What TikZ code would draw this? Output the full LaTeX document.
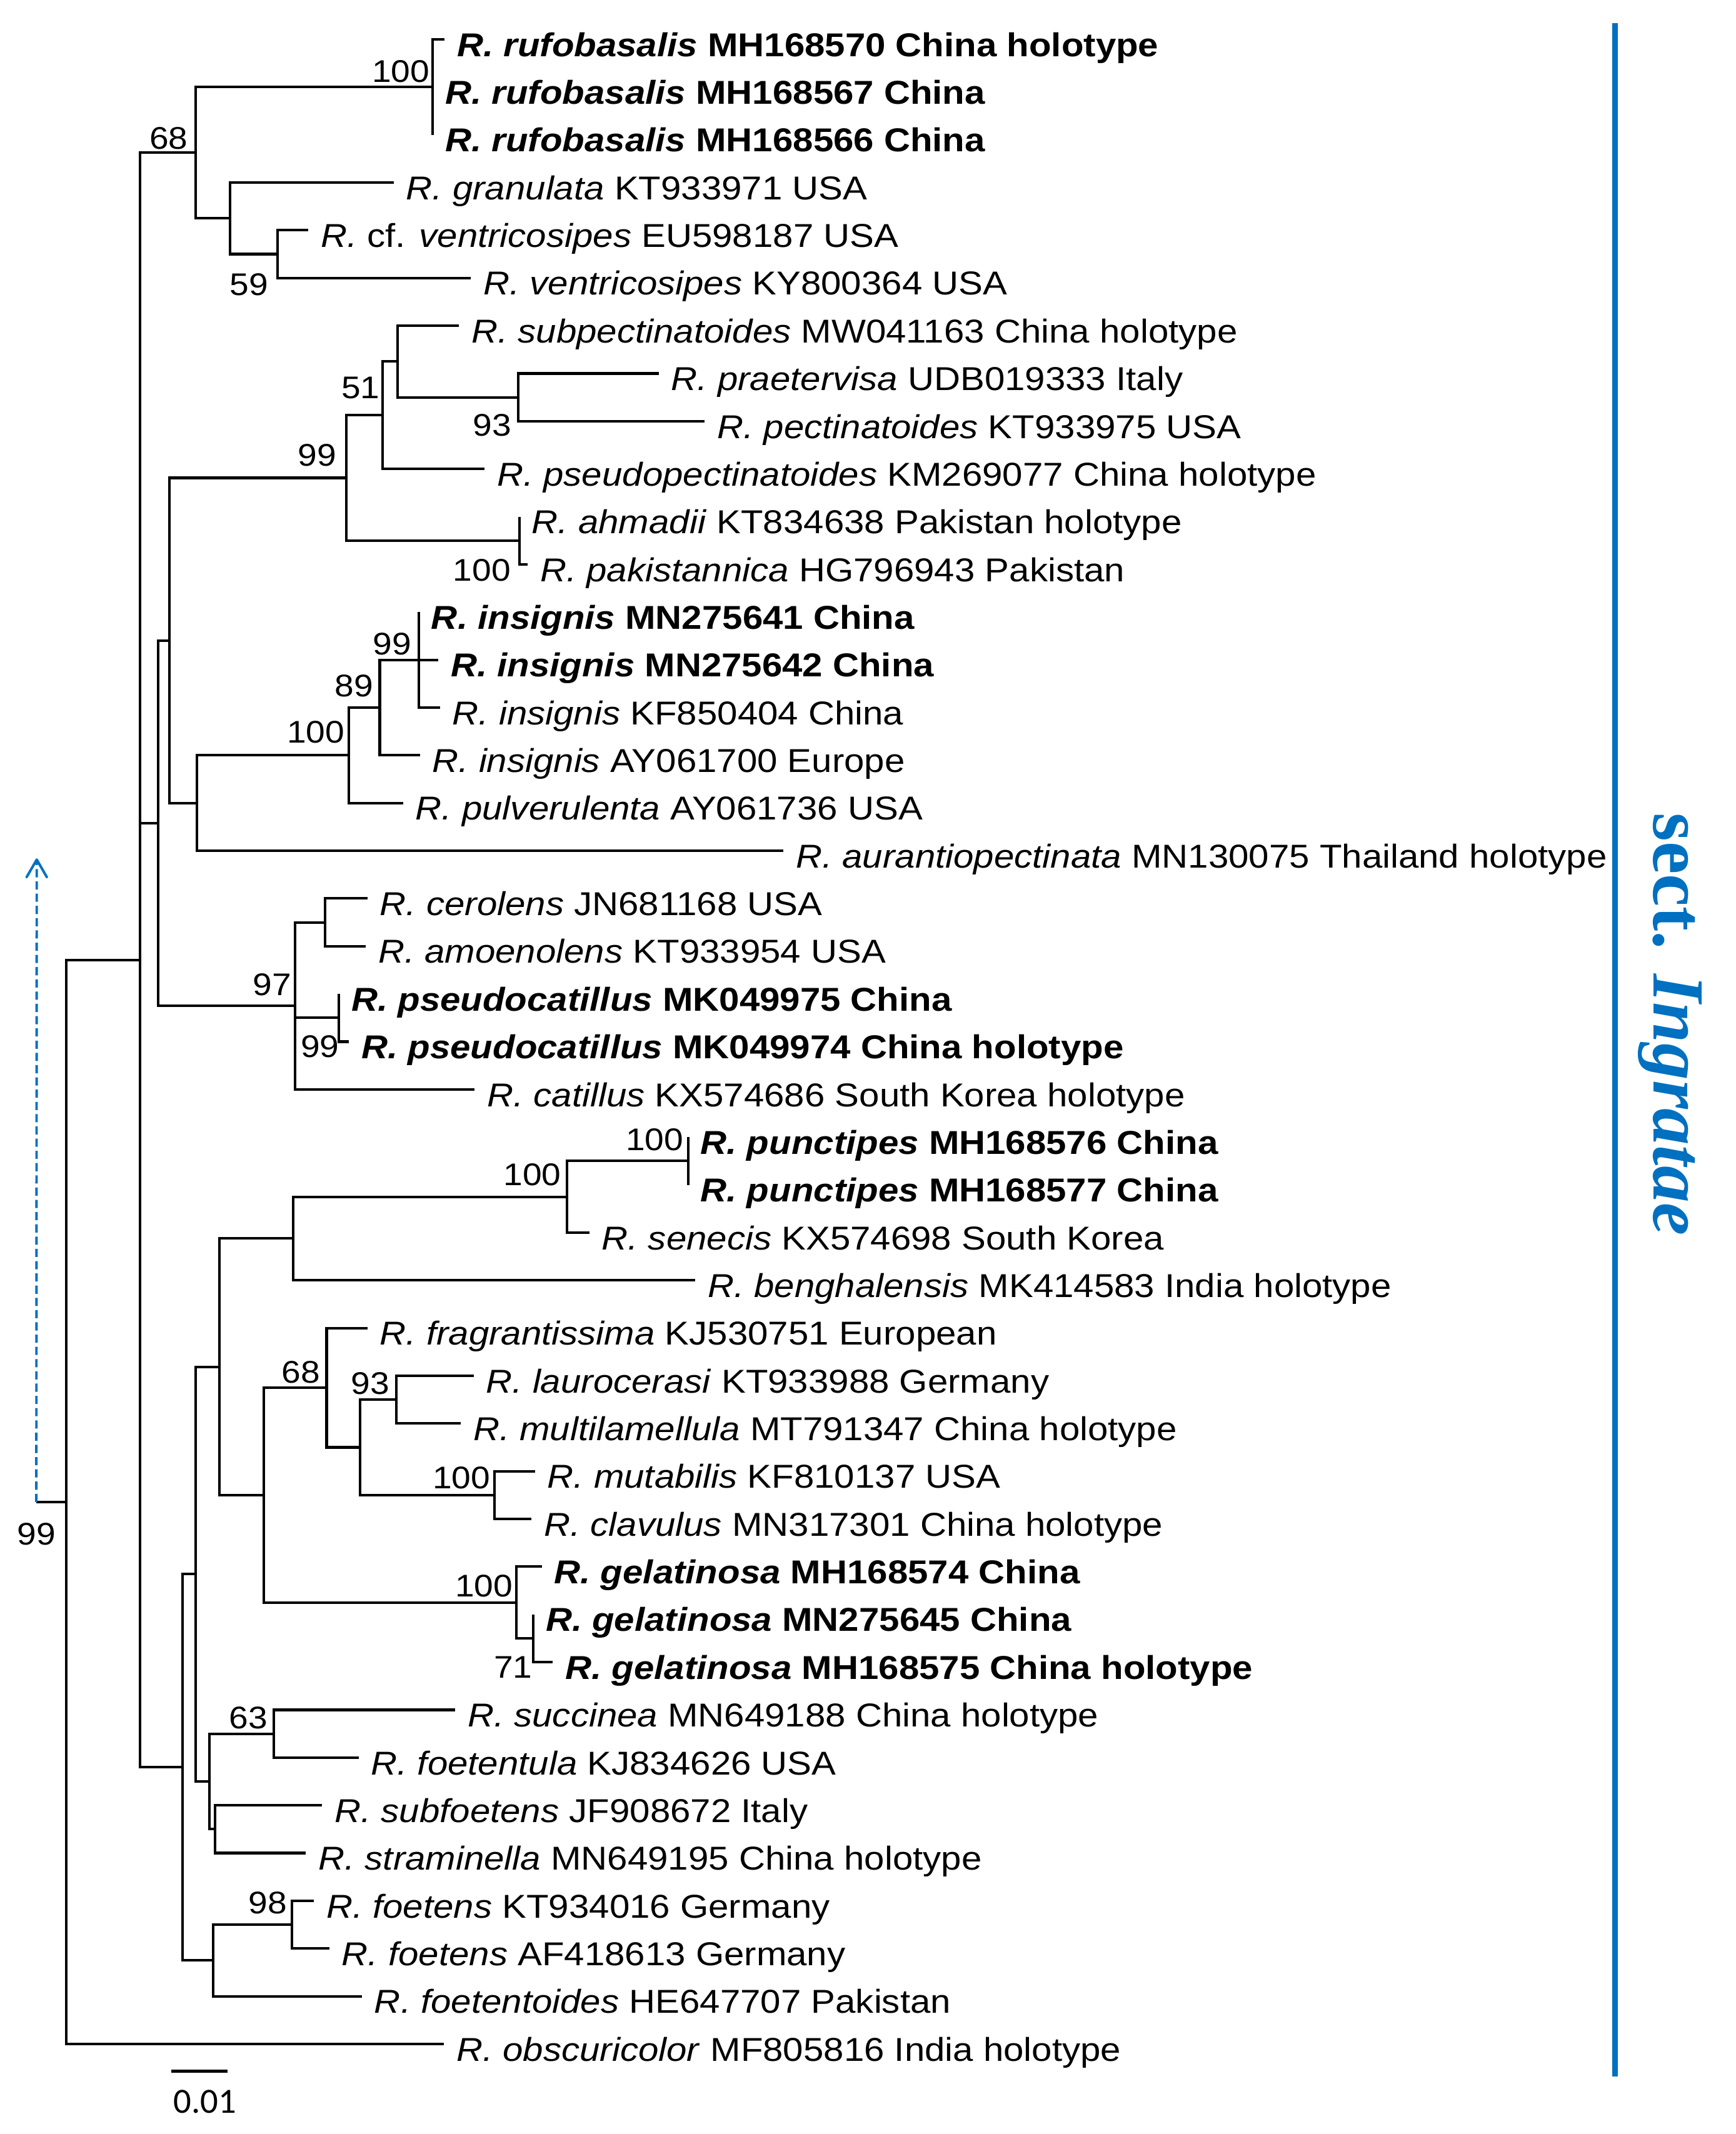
\documentclass[tikz,border=0pt]{standalone}
\usepackage{graphicx}
\usepackage{fontspec}
\setmainfont{Liberation Sans}
\newfontfamily\timesfont{Liberation Serif}
\newfontfamily\calfont{Carlito}
\usetikzlibrary{arrows.meta}
\definecolor{secblue}{RGB}{0,112,192}
\tikzset{
  branch/.style={line width=1.9pt, black, line join=miter},
  leaflab/.style={anchor=base west, inner sep=0pt, font=\fontsize{24.3}{28}\selectfont},
  boot/.style={anchor=base, inner sep=0pt, font=\fontsize{23}{27}\selectfont},
}
\newcommand{\leafnode}[4]{%
  \pgfmathsetmacro{\leafy}{28.9+35.07*#2}%
  \pgfmathsetmacro{\labx}{#3+9}%
  \pgfmathsetmacro{\laby}{\leafy+12.5}%
  \coordinate (#1) at (#3,\leafy);%
  \node[leaflab] (#1lab) at (\labx,\laby) {\scalebox{1.1}[1]{#4}};%
}
\newcommand{\treeedge}[2]{\draw[branch] (#1) |- (#2);}
\newcommand{\bootlab}[4]{\node[boot] (#1) at (#2,#3) {\scalebox{1.1}[1]{#4}};}
\begin{document}
\begin{tikzpicture}[x=1pt,y=-1pt]
\fill[white] (0,0) rectangle (1275,1568);
\useasboundingbox (0,0) rectangle (1275,1568);

% ---------- leaves ----------
\leafnode{L0}{0}{326.6}{\textbf{\textit{R. rufobasalis} MH168570 China holotype}}
\leafnode{L1}{1}{318}{\textbf{\textit{R. rufobasalis} MH168567 China}}
\leafnode{L2}{2}{318}{\textbf{\textit{R. rufobasalis} MH168566 China}}
\leafnode{L3}{3}{289.3}{\textit{R. granulata} KT933971 USA}
\leafnode{L4}{4}{226.5}{\textit{R.} cf. \textit{ventricosipes} EU598187 USA}
\leafnode{L5}{5}{346}{\textit{R. ventricosipes} KY800364 USA}
\leafnode{L6}{6}{337.3}{\textit{R. subpectinatoides} MW041163 China holotype}
\leafnode{L7}{7}{484}{\textit{R. praetervisa} UDB019333 Italy}
\leafnode{L8}{8}{517.8}{\textit{R. pectinatoides} KT933975 USA}
\leafnode{L9}{9}{356}{\textit{R. pseudopectinatoides} KM269077 China holotype}
\leafnode{L10}{10}{381.6}{\textit{R. ahmadii} KT834638 Pakistan holotype}
\leafnode{L11}{11}{387.7}{\textit{R. pakistannica} HG796943 Pakistan}
\leafnode{L12}{12}{307.7}{\textbf{\textit{R. insignis} MN275641 China}}
\leafnode{L13}{13}{322}{\textbf{\textit{R. insignis} MN275642 China}}
\leafnode{L14}{14}{323.3}{\textit{R. insignis} KF850404 China}
\leafnode{L15}{15}{308.5}{\textit{R. insignis} AY061700 Europe}
\leafnode{L16}{16}{296.2}{\textit{R. pulverulenta} AY061736 USA}
\leafnode{L17}{17}{575.6}{\textit{R. aurantiopectinata} MN130075 Thailand holotype}
\leafnode{L18}{18}{270}{\textit{R. cerolens} JN681168 USA}
\leafnode{L19}{19}{268.7}{\textit{R. amoenolens} KT933954 USA}
\leafnode{L20}{20}{249}{\textbf{\textit{R. pseudocatillus} MK049975 China}}
\leafnode{L21}{21}{256.4}{\textbf{\textit{R. pseudocatillus} MK049974 China holotype}}
\leafnode{L22}{22}{348.8}{\textit{R. catillus} KX574686 South Korea holotype}
\leafnode{L23}{23}{505.5}{\textbf{\textit{R. punctipes} MH168576 China}}
\leafnode{L24}{24}{505.5}{\textbf{\textit{R. punctipes} MH168577 China}}
\leafnode{L25}{25}{432.9}{\textit{R. senecis} KX574698 South Korea}
\leafnode{L26}{26}{510.8}{\textit{R. benghalensis} MK414583 India holotype}
\leafnode{L27}{27}{270}{\textit{R. fragrantissima} KJ530751 European}
\leafnode{L28}{28}{348}{\textit{R. laurocerasi} KT933988 Germany}
\leafnode{L29}{29}{338.5}{\textit{R. multilamellula} MT791347 China holotype}
\leafnode{L30}{30}{393}{\textit{R. mutabilis} KF810137 USA}
\leafnode{L31}{31}{390.6}{\textit{R. clavulus} MN317301 China holotype}
\leafnode{L32}{32}{398}{\textbf{\textit{R. gelatinosa} MH168574 China}}
\leafnode{L33}{33}{391.8}{\textbf{\textit{R. gelatinosa} MN275645 China}}
\leafnode{L34}{34}{406.2}{\textbf{\textit{R. gelatinosa} MH168575 China holotype}}
\leafnode{L35}{35}{334.4}{\textit{R. succinea} MN649188 China holotype}
\leafnode{L36}{36}{263.4}{\textit{R. foetentula} KJ834626 USA}
\leafnode{L37}{37}{236.7}{\textit{R. subfoetens} JF908672 Italy}
\leafnode{L38}{38}{224.8}{\textit{R. straminella} MN649195 China holotype}
\leafnode{L39}{39}{230.6}{\textit{R. foetens} KT934016 Germany}
\leafnode{L40}{40}{242}{\textit{R. foetens} AF418613 Germany}
\leafnode{L41}{41}{265.9}{\textit{R. foetentoides} HE647707 Pakistan}
\leafnode{L42}{42}{326.2}{\textit{R. obscuricolor} MF805816 India holotype}

% ---------- internal nodes ----------
\coordinate (root) at (48.5,1103.6);
\coordinate (A) at (103,705.37);
\coordinate (n68) at (143.6,112.19);
\coordinate (rufo) at (318,63.97);
\coordinate (gv) at (169,160.41);
\coordinate (n59) at (204,186.72);
\coordinate (B) at (116,604.82);
\coordinate (D) at (124.3,470.57);
\coordinate (n99a) at (254.4,351.11);
\coordinate (n51) at (281,305.08);
\coordinate (sp) at (292,265.62);
\coordinate (n93a) at (380.8,291.93);
\coordinate (ahm) at (381.6,397.14);
\coordinate (E) at (144.8,590.02);
\coordinate (n100i) at (256.4,554.95);
\coordinate (n89) at (279,519.88);
\coordinate (n99i) at (307.7,484.81);
\coordinate (n97) at (216.6,739.07);
\coordinate (cer) at (238.8,677.7);
\coordinate (pc) at (249,747.84);
\coordinate (C) at (134,1298.55);
\coordinate (H) at (143.6,1156.63);
\coordinate (G) at (161.2,1004.29);
\coordinate (F) at (215.4,910.03);
\coordinate (ps) at (416.5,879.35);
\coordinate (pu) at (505.5,853.05);
\coordinate (I) at (193.7,1098.54);
\coordinate (n68f) at (240,1019.63);
\coordinate (J) at (264.6,1063.47);
\coordinate (n93l) at (291.3,1028.4);
\coordinate (mut) at (363.1,1098.54);
\coordinate (gel) at (379.5,1177.45);
\coordinate (n71) at (391.8,1203.75);
\coordinate (K) at (153.9,1308.96);
\coordinate (n63) at (201,1273.89);
\coordinate (nL) at (158,1344.03);
\coordinate (M) at (156.7,1440.47);
\coordinate (n98) at (214.6,1414.17);

% ---------- branches ----------
\treeedge{root}{A} \treeedge{root}{L42}
\treeedge{A}{n68} \treeedge{A}{B} \treeedge{A}{C}
\treeedge{n68}{rufo} \treeedge{n68}{gv}
\treeedge{rufo}{L0} \treeedge{rufo}{L1} \treeedge{rufo}{L2}
\treeedge{gv}{L3} \treeedge{gv}{n59}
\treeedge{n59}{L4} \treeedge{n59}{L5}
\treeedge{B}{D} \treeedge{B}{n97}
\treeedge{D}{n99a} \treeedge{D}{E}
\treeedge{n99a}{n51} \treeedge{n99a}{ahm}
\treeedge{n51}{sp} \treeedge{n51}{L9}
\treeedge{sp}{L6} \treeedge{sp}{n93a}
\treeedge{n93a}{L7} \treeedge{n93a}{L8}
\treeedge{ahm}{L10} \treeedge{ahm}{L11}
\treeedge{E}{n100i} \treeedge{E}{L17}
\treeedge{n100i}{n89} \treeedge{n100i}{L16}
\treeedge{n89}{n99i} \treeedge{n89}{L15}
\treeedge{n99i}{L12} \treeedge{n99i}{L13} \treeedge{n99i}{L14}
\treeedge{n97}{cer} \treeedge{n97}{pc} \treeedge{n97}{L22}
\treeedge{cer}{L18} \treeedge{cer}{L19}
\treeedge{pc}{L20} \treeedge{pc}{L21}
\treeedge{C}{H} \treeedge{C}{M}
\treeedge{H}{G} \treeedge{H}{K}
\treeedge{G}{F} \treeedge{G}{I}
\treeedge{F}{ps} \treeedge{F}{L26}
\treeedge{ps}{pu} \treeedge{ps}{L25}
\treeedge{pu}{L23} \treeedge{pu}{L24}
\treeedge{I}{n68f} \treeedge{I}{gel}
\treeedge{n68f}{L27} \treeedge{n68f}{J}
\treeedge{J}{n93l} \treeedge{J}{mut}
\treeedge{n93l}{L28} \treeedge{n93l}{L29}
\treeedge{mut}{L30} \treeedge{mut}{L31}
\treeedge{gel}{L32} \treeedge{gel}{n71}
\treeedge{n71}{L33} \treeedge{n71}{L34}
\treeedge{K}{n63} \treeedge{K}{nL}
\treeedge{n63}{L35} \treeedge{n63}{L36}
\treeedge{nL}{L37} \treeedge{nL}{L38}
\treeedge{M}{n98} \treeedge{M}{L41}
\treeedge{n98}{L39} \treeedge{n98}{L40}

% ---------- bootstrap values ----------
\bootlab{b1}{294.5}{60.5}{100}
\bootlab{b2}{124}{109.5}{68}
\bootlab{b3}{183}{217}{59}
\bootlab{b4}{265}{293}{51}
\bootlab{b5}{361.5}{320.5}{93}
\bootlab{b6}{233}{342.5}{99}
\bootlab{b7}{354}{427}{100}
\bootlab{b8}{288}{481}{99}
\bootlab{b9}{260}{512}{89}
\bootlab{b10}{232}{546}{100}
\bootlab{b11}{200}{731.5}{97}
\bootlab{b12}{235}{777}{99}
\bootlab{b13}{481}{845.5}{100}
\bootlab{b14}{391}{871}{100}
\bootlab{b15}{26.7}{1135}{99}
\bootlab{b16}{221}{1016}{68}
\bootlab{b17}{272}{1024.5}{93}
\bootlab{b18}{339}{1094}{100}
\bootlab{b19}{355.5}{1173}{100}
\bootlab{b20}{377}{1233}{71}
\bootlab{b21}{182.6}{1270}{63}
\bootlab{b22}{196.7}{1406}{98}

% ---------- root stub and blue arrow ----------
\coordinate (stub) at (26.7,1103.6);
\coordinate (atip) at (27,630.7);
\draw[branch] (stub) -- (root);
\draw[secblue, line width=1.8pt, dash pattern=on 6pt off 3pt,
      -{Straight Barb[length=13pt,width=15pt,round]}] (stub) -- (atip);

% ---------- scale bar ----------
\coordinate (sb1) at (126,1521.8);
\coordinate (sb2) at (167.4,1521.8);
\draw[line width=2.2pt] (sb1) -- (sb2);
\node[anchor=base, inner sep=0pt, font=\calfont\fontsize{26}{30}\selectfont] (sbl) at (150.7,1552.6) {0.01};

% ---------- section bar ----------
\coordinate (bl1) at (1186.5,17);
\coordinate (bl2) at (1186.5,1525.5);
\draw[secblue, line width=4.4pt] (bl1) -- (bl2);
\node[anchor=base west, inner sep=0pt, rotate=-90, text=secblue,
      font=\timesfont\bfseries\fontsize{54}{60}\selectfont] (sect) at (1215,597) {sect. \textit{Ingratae}};
\end{tikzpicture}
\end{document}
